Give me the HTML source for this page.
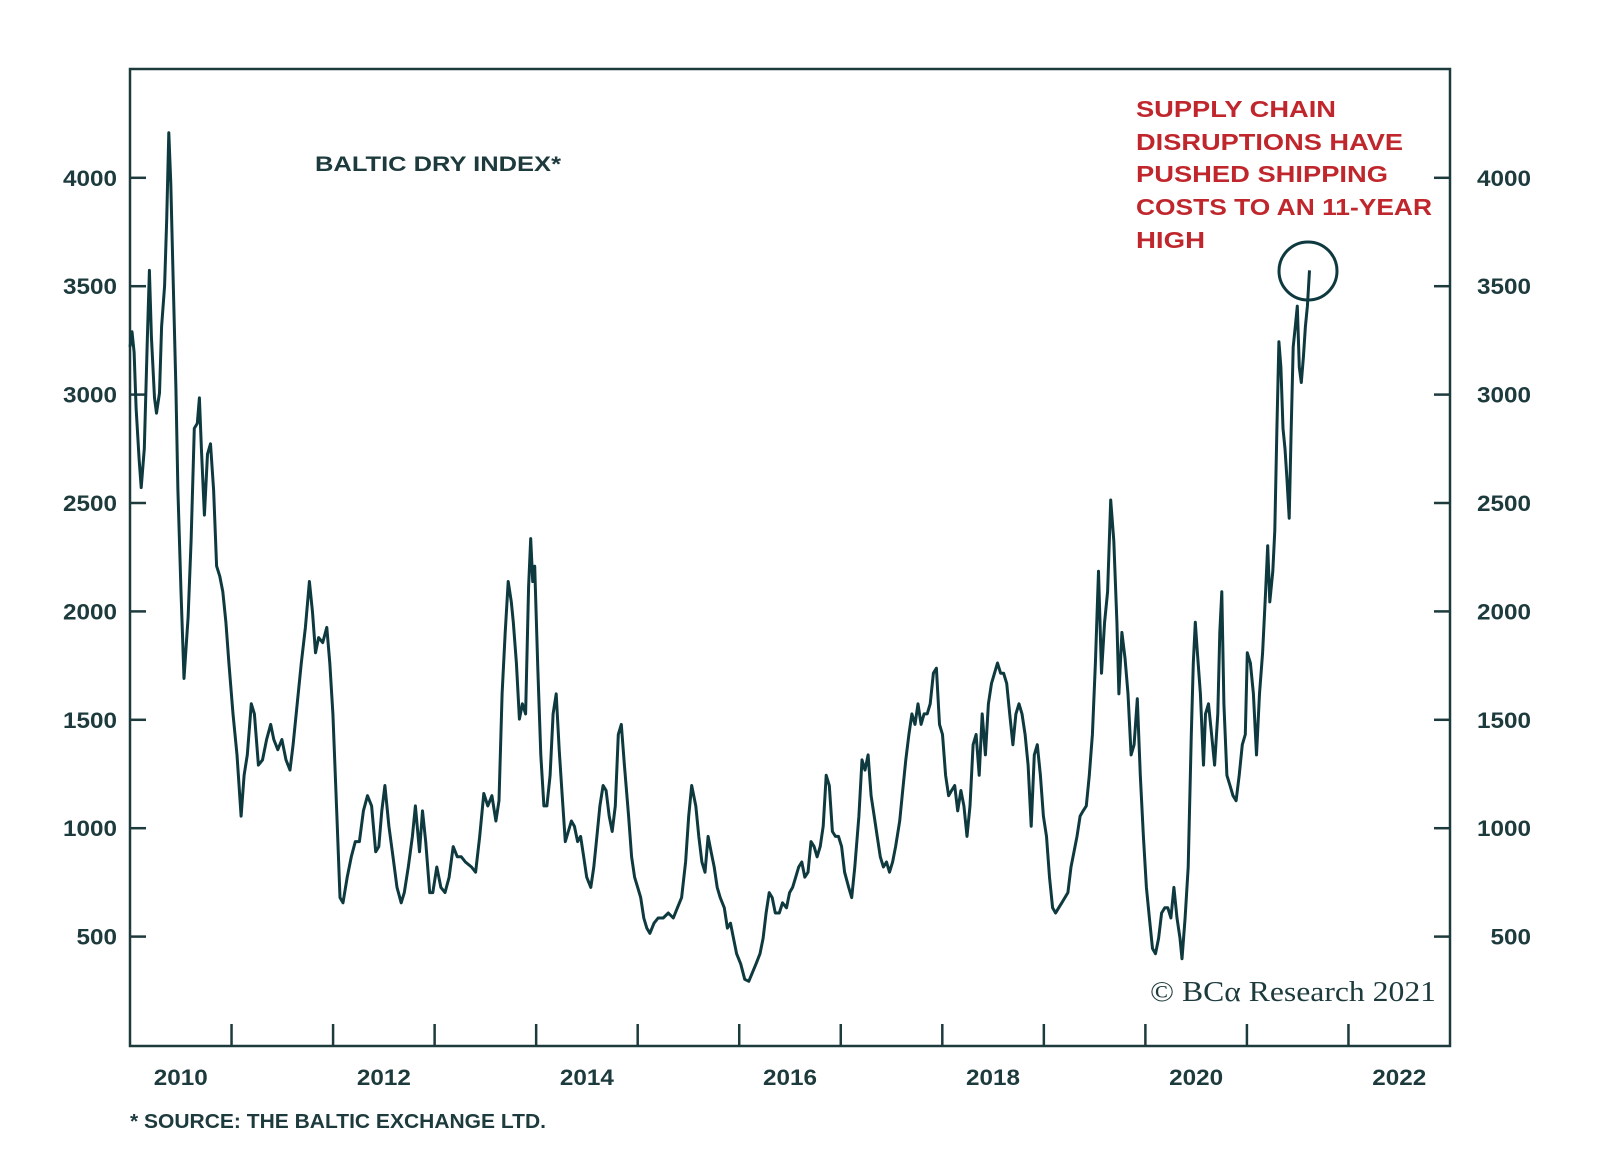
<!DOCTYPE html>
<html><head><meta charset="utf-8"><style>
html,body{margin:0;padding:0;background:#fff;}
svg{display:block;}
text{font-family:"Liberation Sans",sans-serif;}
</style></head><body>
<svg id="chart" width="1600" height="1170" viewBox="0 0 1600 1170" xmlns="http://www.w3.org/2000/svg">
<rect x="130" y="69" width="1320" height="977" fill="none" stroke="#1d3a3d" stroke-width="2.5"/>
<g id="axes"></g>
<path id="series" fill="none" stroke="#0e3a3f" stroke-width="3" stroke-linejoin="round"/>
<text x="315" y="171" font-size="21" font-weight="bold" fill="#1d3a3d" textLength="246" lengthAdjust="spacingAndGlyphs">BALTIC DRY INDEX*</text>
<g font-size="23" font-weight="bold" fill="#c0272d">
<text x="1136" y="117" textLength="200" lengthAdjust="spacingAndGlyphs">SUPPLY CHAIN</text>
<text x="1136" y="150" textLength="267" lengthAdjust="spacingAndGlyphs">DISRUPTIONS HAVE</text>
<text x="1136" y="182" textLength="252" lengthAdjust="spacingAndGlyphs">PUSHED SHIPPING</text>
<text x="1136" y="215" textLength="296" lengthAdjust="spacingAndGlyphs">COSTS TO AN 11-YEAR</text>
<text x="1136" y="248" textLength="69" lengthAdjust="spacingAndGlyphs">HIGH</text>
</g>
<circle cx="1308" cy="271" r="29" fill="none" stroke="#0e3a3f" stroke-width="3"/>
<text x="1150" y="1001" font-size="28" fill="#1d3a3d" style="font-family:'Liberation Serif',serif" textLength="286" lengthAdjust="spacingAndGlyphs">© BCα Research 2021</text>
<text x="130" y="1128" font-size="20" font-weight="bold" fill="#1d3a3d" textLength="416" lengthAdjust="spacingAndGlyphs">* SOURCE: THE BALTIC EXCHANGE LTD.</text>
</svg>
<script>
const yTicks = [500,1000,1500,2000,2500,3000,3500,4000];
const yearTicks = [2011,2012,2013,2014,2015,2016,2017,2018,2019,2020,2021,2022];
const yearLabels = [2010,2012,2014,2016,2018,2020,2022];
const dates = [2010.000,2010.020,2010.040,2010.060,2010.090,2010.110,2010.141,2010.171,2010.191,2010.211,2010.241,2010.261,2010.291,2010.311,2010.341,2010.361,2010.382,2010.402,2010.422,2010.452,2010.472,2010.502,2010.532,2010.572,2010.602,2010.633,2010.663,2010.683,2010.703,2010.733,2010.763,2010.793,2010.823,2010.853,2010.884,2010.914,2010.944,2010.974,
2011.014,2011.054,2011.094,2011.124,2011.155,2011.195,2011.225,2011.265,2011.305,2011.345,2011.386,2011.416,2011.456,2011.496,2011.536,2011.576,2011.606,2011.647,2011.687,2011.727,2011.767,2011.797,2011.827,2011.857,2011.898,2011.938,2011.968,2011.998,
2012.038,2012.068,2012.098,2012.139,2012.179,2012.219,2012.259,2012.299,2012.339,2012.379,2012.420,2012.450,2012.480,2012.510,2012.550,2012.590,2012.630,2012.671,2012.701,2012.741,2012.781,2012.811,2012.851,2012.881,2012.912,2012.952,2012.982,
2013.022,2013.062,2013.102,2013.143,2013.183,2013.223,2013.263,2013.303,2013.363,2013.404,2013.444,2013.484,2013.524,2013.564,2013.604,2013.634,2013.665,2013.695,2013.725,2013.755,2013.775,2013.805,2013.835,2013.865,2013.896,2013.926,2013.946,2013.966,2013.986,
2014.016,2014.046,2014.076,2014.106,2014.137,2014.167,2014.197,2014.227,2014.257,2014.287,2014.317,2014.347,2014.377,2014.408,2014.438,2014.468,2014.498,2014.538,2014.568,2014.598,2014.628,2014.659,2014.689,2014.719,2014.749,2014.779,2014.809,2014.839,2014.869,2014.910,2014.940,2014.970,
2015.000,2015.030,2015.060,2015.090,2015.120,2015.161,2015.201,2015.251,2015.301,2015.351,2015.391,2015.432,2015.472,2015.502,2015.532,2015.572,2015.602,2015.632,2015.663,2015.693,2015.723,2015.753,2015.783,2015.813,2015.853,2015.883,2015.914,2015.944,2015.974,
2016.014,2016.054,2016.094,2016.124,2016.165,2016.205,2016.235,2016.265,2016.295,2016.325,2016.355,2016.395,2016.426,2016.466,2016.496,2016.526,2016.556,2016.586,2016.616,2016.646,2016.677,2016.707,2016.737,2016.767,2016.797,2016.827,2016.857,2016.887,2016.918,2016.948,2016.978,
2017.008,2017.038,2017.078,2017.108,2017.138,2017.179,2017.209,2017.239,2017.269,2017.299,2017.329,2017.359,2017.389,2017.420,2017.450,2017.480,2017.510,2017.540,2017.580,2017.610,2017.640,2017.671,2017.701,2017.731,2017.761,2017.791,2017.821,2017.851,2017.881,2017.912,2017.942,2017.972,
2018.002,2018.032,2018.062,2018.092,2018.122,2018.152,2018.183,2018.213,2018.243,2018.273,2018.303,2018.333,2018.363,2018.393,2018.424,2018.454,2018.484,2018.514,2018.544,2018.574,2018.604,2018.634,2018.664,2018.695,2018.725,2018.755,2018.785,2018.815,2018.845,2018.875,2018.906,2018.936,2018.966,2018.996,
2019.026,2019.056,2019.086,2019.116,2019.146,2019.177,2019.207,2019.237,2019.267,2019.297,2019.327,2019.357,2019.387,2019.418,2019.448,2019.478,2019.508,2019.538,2019.568,2019.598,2019.628,2019.658,2019.689,2019.719,2019.739,2019.769,2019.799,2019.829,2019.859,2019.889,2019.920,2019.950,2019.980,
2020.010,2020.040,2020.070,2020.100,2020.130,2020.160,2020.191,2020.221,2020.251,2020.281,2020.311,2020.341,2020.361,2020.391,2020.422,2020.452,2020.472,2020.492,2020.512,2020.542,2020.572,2020.592,2020.622,2020.652,2020.682,2020.713,2020.733,2020.753,2020.773,2020.803,2020.833,2020.863,2020.893,2020.924,2020.954,2020.984,
2021.004,2021.034,2021.064,2021.094,2021.124,2021.154,2021.184,2021.205,2021.225,2021.255,2021.275,2021.295,2021.315,2021.335,2021.355,2021.375,2021.395,2021.416,2021.436,2021.456,2021.476,2021.496,2021.516,2021.536,2021.556,2021.576,2021.596,2021.616];
const bdiValues = [3220,3290,3196,2938,2703,2571,2750,3267,3573,3267,2985,2914,3008,3314,3502,3808,4208,3973,3596,3032,2561,2091,1691,1973,2326,2844,2867,2985,2750,2444,2726,2773,2561,2209,2162,2091,1950,1762,
1527,1338,1056,1244,1338,1574,1527,1291,1315,1409,1479,1409,1362,1409,1315,1268,1385,1574,1762,1926,2138,1997,1809,1879,1856,1926,1762,1527,
1056,680,656,774,868,938,938,1080,1150,1103,891,915,1080,1197,1009,868,727,656,703,821,962,1103,891,1080,938,703,703,
821,727,703,774,915,868,868,844,821,797,962,1160,1103,1150,1033,1127,1620,1903,2138,2044,1950,1762,1503,1574,1527,2115,2336,2138,2209,
1738,1338,1103,1103,1244,1527,1620,1362,1150,938,985,1033,1009,938,962,868,774,727,821,962,1103,1197,1174,1056,985,1103,1432,1479,1291,1056,868,774,
727,680,586,539,515,562,586,586,609,586,633,680,844,1056,1197,1103,962,844,797,962,891,821,727,680,633,539,562,492,421,
374,303,294,327,374,421,492,609,703,680,609,609,656,633,703,727,774,821,844,774,797,938,915,868,915,1009,1244,1197,985,962,962,
915,797,727,680,821,1056,1315,1268,1338,1150,1056,962,868,821,844,797,844,915,1033,1174,1315,1432,1527,1479,1574,1479,1527,1527,1574,1715,1738,1479,
1432,1244,1150,1174,1197,1080,1174,1103,962,1103,1385,1432,1244,1527,1338,1574,1668,1715,1762,1715,1715,1668,1527,1385,1527,1574,1527,1432,1291,1009,1338,1385,1244,1056,
962,774,633,609,633,656,680,703,821,891,962,1056,1080,1103,1244,1432,1762,2185,1715,1950,2091,2514,2326,1950,1620,1903,1785,1620,1338,1385,1597,1244,962,
727,586,445,421,492,609,633,633,586,727,586,492,398,586,821,1432,1762,1950,1809,1620,1291,1527,1574,1432,1291,1527,1903,2091,1574,1244,1197,1150,1127,1244,1385,1432,
1809,1762,1620,1338,1620,1809,2091,2303,2044,2185,2373,2844,3244,3126,2844,2750,2608,2430,2844,3220,3314,3408,3126,3056,3173,3314,3408,3573];

const NS = 'http://www.w3.org/2000/svg';
const X0 = 130, X1 = 1450, Y0 = 1045;
function xScale(yr){ return X0 + (yr - 2010) * (X1 - X0) / 13; }
function yScale(v){ return Y0 - v * 108.4 / 500; }

const axes = document.getElementById('axes');
function mk(tag, attrs){ const e = document.createElementNS(NS, tag); for (const k in attrs) e.setAttribute(k, attrs[k]); axes.appendChild(e); return e; }

yTicks.forEach(v => {
  const y = yScale(v);
  const w = String(v).length * 13.5;
  const t1 = mk('line', {x1:X0, x2:X0+16, y1:y, y2:y, stroke:'#1d3a3d', 'stroke-width':2.5});
  
  
  const t2 = mk('line', {x1:X1-16, x2:X1, y1:y, y2:y, stroke:'#1d3a3d', 'stroke-width':2.5});
  
  
  const l1 = mk('text', {x:117, y:y+8, 'text-anchor':'end', 'font-size':22, 'font-weight':'bold', fill:'#1d3a3d', textLength:w, lengthAdjust:'spacingAndGlyphs'});
  l1.textContent = v;
  
  
  const l2 = mk('text', {x:1531, y:y+8, 'text-anchor':'end', 'font-size':22, 'font-weight':'bold', fill:'#1d3a3d', textLength:w, lengthAdjust:'spacingAndGlyphs'});
  l2.textContent = v;
  
  
});
yearTicks.forEach(yr => {
  const x = xScale(yr);
  const t = mk('line', {x1:x, x2:x, y1:1024, y2:1046, stroke:'#1d3a3d', 'stroke-width':2.5});
  
  
});
yearLabels.forEach(yr => {
  const x = xScale(yr + 0.5);
  const l = mk('text', {x:x, y:1085, 'text-anchor':'middle', 'font-size':22, 'font-weight':'bold', fill:'#1d3a3d', textLength:54, lengthAdjust:'spacingAndGlyphs'});
  l.textContent = yr;
  
  
});

let d = '';
for (let i = 0; i < dates.length; i++) {
  d += (i ? 'L' : 'M') + xScale(dates[i]).toFixed(1) + ',' + yScale(bdiValues[i]).toFixed(1);
}
document.getElementById('series').setAttribute('d', d);
</script>
</body></html>
